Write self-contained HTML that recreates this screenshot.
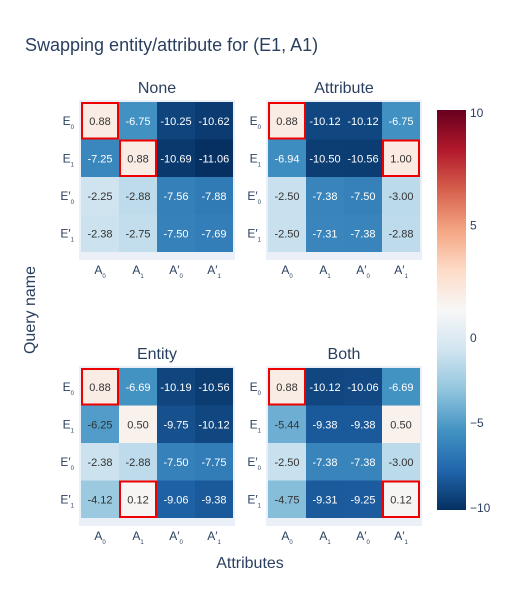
<!DOCTYPE html>
<html><head><meta charset="utf-8"><style>
body{margin:0;background:#fff;font-family:"Liberation Sans",Arial,sans-serif}
svg text{font-family:"Liberation Sans",Arial,sans-serif}
</style></head><body>
<svg id="c" width="514" height="600" xmlns="http://www.w3.org/2000/svg">
<defs><linearGradient id="cb" x1="0" y1="1" x2="0" y2="0">
<stop offset="0" stop-color="rgb(5,48,97)"/><stop offset="0.1" stop-color="rgb(33,102,172)"/><stop offset="0.2" stop-color="rgb(67,147,195)"/><stop offset="0.3" stop-color="rgb(146,197,222)"/><stop offset="0.4" stop-color="rgb(209,229,240)"/><stop offset="0.5" stop-color="rgb(247,247,247)"/><stop offset="0.6" stop-color="rgb(253,219,199)"/><stop offset="0.7" stop-color="rgb(244,165,130)"/><stop offset="0.8" stop-color="rgb(214,96,77)"/><stop offset="0.9" stop-color="rgb(178,24,43)"/><stop offset="1" stop-color="rgb(103,0,31)"/>
</linearGradient></defs>
<text x="25" y="51" font-size="18" fill="#2a3f5f">Swapping entity/attribute for (E1, A1)</text>
<text transform="translate(35,310) rotate(-90)" text-anchor="middle" font-size="16" fill="#2a3f5f">Query name</text>
<text x="250" y="568" text-anchor="middle" font-size="16" fill="#2a3f5f">Attributes</text>
<rect x="437" y="110" width="29" height="400" fill="url(#cb)"/>
<g id="g"></g>
</svg>
<script>
const titles=["None","Attribute","Entity","Both"];
const rowLabels=["E","E","E′","E′"];
const rowSubs=["0","1","0","1"];
const colLabels=["A","A","A′","A′"];
const colSubs=["0","1","0","1"];
const valsNone=[[0.88,-6.75,-10.25,-10.62],[-7.25,0.88,-10.69,-11.06],[-2.25,-2.88,-7.56,-7.88],[-2.38,-2.75,-7.50,-7.69]];
const valsAttr=[[0.88,-10.12,-10.12,-6.75],[-6.94,-10.50,-10.56,1.00],[-2.50,-7.38,-7.50,-3.00],[-2.50,-7.31,-7.38,-2.88]];
const valsEnt=[[0.88,-6.69,-10.19,-10.56],[-6.25,0.50,-9.75,-10.12],[-2.38,-2.88,-7.50,-7.75],[-4.12,0.12,-9.06,-9.38]];
const valsBoth=[[0.88,-10.12,-10.06,-6.69],[-5.44,-9.38,-9.38,0.50],[-2.50,-7.38,-7.38,-3.00],[-4.75,-9.31,-9.25,0.12]];
const boxes=[[[0,0],[1,1]],[[0,0],[1,3]],[[0,0],[3,1]],[[0,0],[3,3]]];
const cbTicks=[10,5,0,-5,-10];
const zmax=11.06;
const stops=[[5,48,97],[33,102,172],[67,147,195],[146,197,222],[209,229,240],[247,247,247],[253,219,199],[244,165,130],[214,96,77],[178,24,43],[103,0,31]];
function col(v){let t=(v+zmax)/(2*zmax)*10;t=Math.max(0,Math.min(10,t));const i=Math.min(9,Math.floor(t)),f=t-i;const a=stops[i],b=stops[i+1];return `rgb(${a.map((x,k)=>Math.round(x+(b[k]-x)*f)).join(',')})`;}
const NS="http://www.w3.org/2000/svg",g=document.getElementById('g');
function mk(t,at,txt){const e=document.createElementNS(NS,t);for(const k in at)e.setAttribute(k,at[k]);if(txt!=null)e.textContent=txt;g.appendChild(e);return e;}
const all=[valsNone,valsAttr,valsEnt,valsBoth];
const ox=[81,268,81,268],oy=[102,102,368,368],cw=38,ch=37.5;
function xs(p,j){return ox[p]+j*cw;} function ys(p,i){return oy[p]+i*ch;}
all.forEach((d,p)=>{
  const bg=mk('rect',{x:ox[p]-2,y:oy[p]-2,width:4*cw+4,height:4*ch+10,fill:'#ebf0f8'});
  
  
  const tt=mk('text',{x:ox[p]+2*cw,y:oy[p]-9,'text-anchor':'middle','font-size':16,fill:'#2a3f5f'},titles[p]);
  
  
  d.forEach((row,i)=>row.forEach((v,j)=>{
    const r=mk('rect',{x:xs(p,j),y:ys(p,i),width:cw,height:ch,fill:col(v)});
    
    
    const t=mk('text',{x:xs(p,j)+cw/2,y:ys(p,i)+ch/2+4,'text-anchor':'middle','font-size':11,fill:Math.abs(v)>6.5?'#fff':'#333'},v.toFixed(2));
    
    
  }));
  rowLabels.forEach((l,i)=>{
    const t=mk('text',{x:ox[p]-7,y:ys(p,i)+ch/2+4,'text-anchor':'end','font-size':12,fill:'#2a3f5f'});
    t.innerHTML=l+'<tspan font-size="6" dy="4">'+rowSubs[i]+'</tspan>';
    
    
  });
  colLabels.forEach((l,j)=>{
    const t=mk('text',{x:xs(p,j)+cw/2,y:oy[p]+4*ch+22,'text-anchor':'middle','font-size':12,fill:'#2a3f5f'});
    t.innerHTML=l+'<tspan font-size="6" dy="4">'+colSubs[j]+'</tspan>';
    
    
  });
  boxes[p].forEach(([i,j])=>{
    const b=mk('rect',{x:xs(p,j)+1,y:ys(p,i)+1,width:cw-2,height:ch-2,fill:'none',stroke:'#e00',"stroke-width":2});
    
    
  });
});
cbTicks.forEach(v=>{
  const y=337-v*(v>=0?22.5:17);
  const t=mk('text',{x:470,y:y+5,'font-size':12,fill:'#2a3f5f'},v<0?'−'+(-v):String(v));
  
  
});
</script>
</body></html>
